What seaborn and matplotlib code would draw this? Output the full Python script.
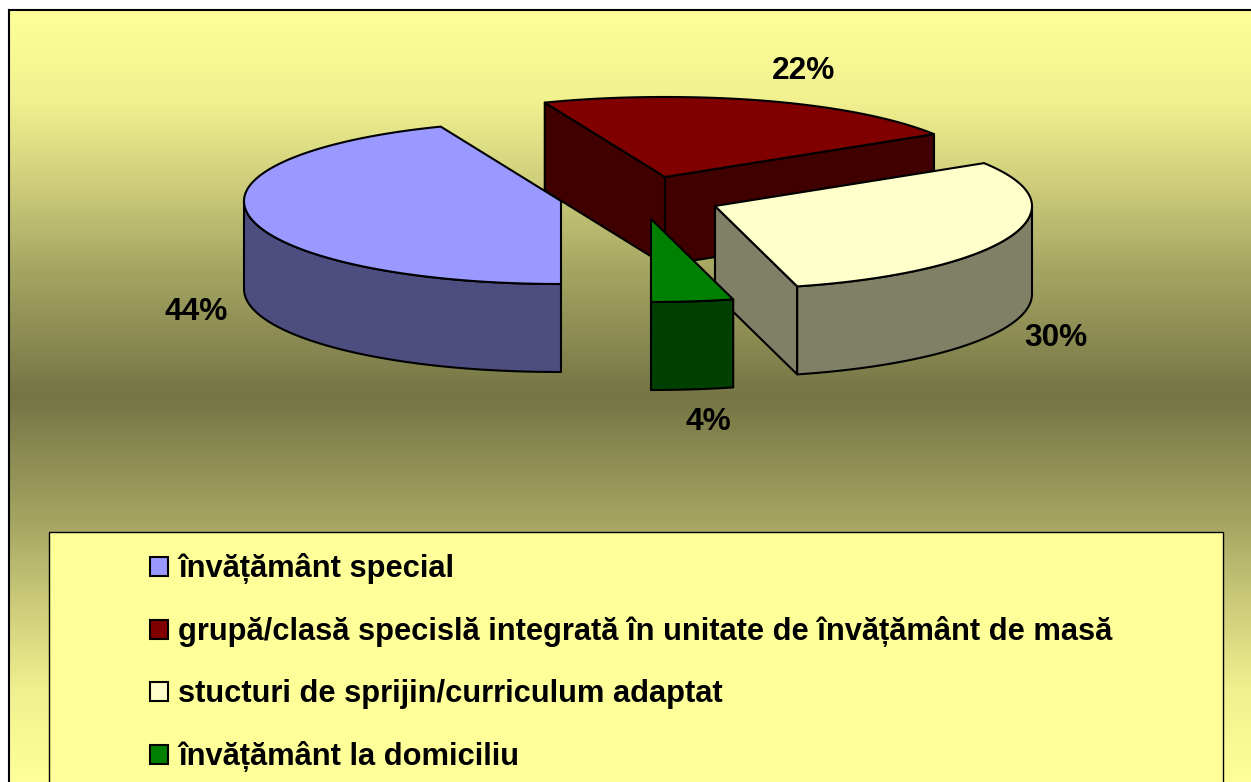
import numpy as np
import matplotlib
matplotlib.use("Agg")
import matplotlib.pyplot as plt
from matplotlib.colors import LinearSegmentedColormap
from matplotlib.patches import Patch, Rectangle
import seaborn as sns

# data
categories = ["învățământ special",
              "grupă/clasă specislă integrată în unitate de învățământ de masă",
              "stucturi de sprijin/curriculum adaptat",
              "învățământ la domiciliu"]
shares = [44, 22, 30, 4]

# styles
top_colors = ["#9999FF", "#800000", "#FFFFCC", "#008000"]
side_colors = ["#4D4D80", "#400000", "#808066", "#004000"]
bg_stops = [0.0, 0.12, 0.22, 0.34, 0.5, 0.66, 0.78, 0.88, 1.0]
bg_colors = ["#FFFF99", "#F0F08F", "#CFCF7C", "#A4A462", "#757546",
             "#A4A462", "#CFCF7C", "#F0F08F", "#FFFF99"]

# layout, in pixels of the 1251x782 picture
centers = [(561, 201), (665, 177), (715, 206), (651, 219)]
label_pos = [(196, 312), (804, 71), (1056, 338), (708, 422)]
rx, ry_front, ry_back, depth = 317, 83, 80, 88
rim_power = 0.97  # the original ellipse is a little boxy
start_angle = 180  # clockwise from 12 o'clock
draw_order = [1, 0, 2, 3]

sns.set_theme(style="white")
plt.rcParams["font.family"] = ["Liberation Sans", "DejaVu Sans"]

fig = plt.figure(figsize=(12.51, 7.82), dpi=100)
ax = fig.add_axes([0, 0, 1, 1])

# background gradient
cmap = LinearSegmentedColormap.from_list("bg", list(zip(bg_stops, bg_colors)), N=512)
ax.imshow(np.linspace(0, 1, 772).reshape(-1, 1), cmap=cmap, aspect="auto",
          extent=[9, 1251, 782, 10], zorder=0)
ax.set_xlim(0, 1251)
ax.set_ylim(782, 0)
ax.axis("off")
ax.plot([9, 9], [782, 10], color="black", lw=1.5, zorder=1, solid_capstyle="projecting")
ax.plot([9, 1251], [10, 10], color="black", lw=1.5, zorder=1, solid_capstyle="projecting")


def rim(center, a0, a1):
    a = np.radians(np.linspace(a0, a1, 120))
    ry = np.where(np.cos(a) > 0, ry_back, ry_front)
    sx = np.sign(np.sin(a)) * np.abs(np.sin(a)) ** rim_power
    return center[0] + rx * sx, center[1] - ry * np.cos(a)


def wall(xs, ys, color, z):
    px = np.r_[xs, xs[::-1]]
    py = np.r_[ys, ys[::-1] + depth]
    ax.fill(px, py, facecolor=color, edgecolor="black", lw=1.5, joinstyle="round", zorder=z)


# slices, drawn back to front
edges = start_angle + np.r_[0, np.cumsum(shares)] * 360 / sum(shares)
z = 2
for i in draw_order:
    a0, a1 = edges[i], edges[i + 1]
    c = centers[i]
    side, top = side_colors[i], top_colors[i]
    # flat cut walls, only the ones that face the viewer
    if np.sin(np.radians(a0)) < -1e-6:
        ex, ey = rim(c, a0, a0)
        wall(np.array([c[0], ex[0]]), np.array([c[1], ey[0]]), side, z)
    if np.sin(np.radians(a1)) > 1e-6:
        ex, ey = rim(c, a1, a1)
        wall(np.array([c[0], ex[0]]), np.array([c[1], ey[0]]), side, z)
    # curved outer wall, front half of the rim
    shift = 360 if a0 >= 360 else 0
    lo, hi = max(a0 - shift, 90), min(a1 - shift, 270)
    if hi > lo:
        xs, ys = rim(c, lo, hi)
        wall(xs, ys, side, z)
    xs, ys = rim(c, a0, a1)
    ax.fill(np.r_[c[0], xs], np.r_[c[1], ys], facecolor=top, edgecolor="black",
            lw=1.5, joinstyle="round", zorder=z)
    z += 1

# value labels
for v, (x, y) in zip(shares, label_pos):
    ax.text(x, y, f"{v}%", ha="center", va="center", fontsize=22.8, fontweight="bold",
            color="black", zorder=10)

# legend box runs off the bottom of the picture
ax.add_patch(Rectangle((49, 532), 1174, 260, facecolor="#FFFF99", edgecolor="black",
                       lw=1.0, zorder=11))
handles = [Patch(facecolor=c, edgecolor="black", lw=1.5) for c in top_colors]
leg = ax.legend(handles, categories, loc="upper left", bbox_to_anchor=(150, 553),
                bbox_transform=ax.transData, frameon=False,
                prop={"weight": "bold", "size": 22.2}, labelcolor="black",
                handlelength=0.58, handleheight=0.58, handletextpad=0.33,
                labelspacing=1.04, borderpad=0, borderaxespad=0)
leg.set_zorder(12)

fig.savefig("out.png", dpi=100)
